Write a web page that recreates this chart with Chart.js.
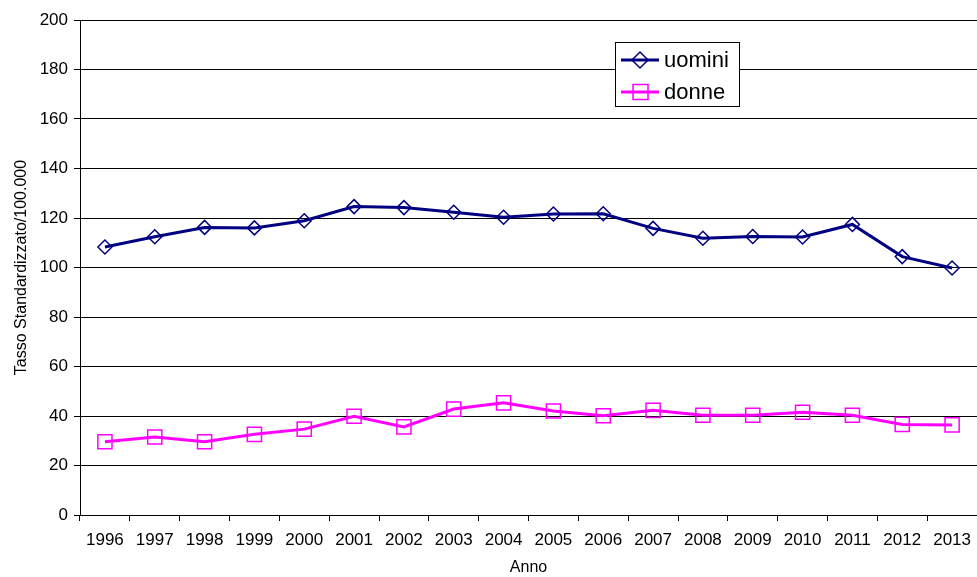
<!DOCTYPE html>
<html>
<head>
<meta charset="utf-8">
<script src="https://cdn.jsdelivr.net/npm/chart.js@4/dist/chart.umd.min.js"></script>
<style>
  html, body { margin: 0; padding: 0; background: #fff; }
  #wrap { width: 977px; height: 577px; }
</style>
</head>
<body>
<div id="wrap"><canvas id="lineChart" width="977" height="577"></canvas></div>
<script>
var anni = ["1996", "1997", "1998", "1999", "2000", "2001", "2002", "2003", "2004",
            "2005", "2006", "2007", "2008", "2009", "2010", "2011", "2012", "2013"];
var uomini = [108.3, 112.4, 116.2, 116, 118.9, 124.6, 124.2, 122.3, 120.3,
              121.6, 121.7, 115.8, 111.8, 112.5, 112.3, 117.4, 104.4, 99.8];
var donne = [29.6, 31.5, 29.6, 32.6, 34.7, 39.9, 35.6, 42.8, 45.3,
             42, 40.1, 42.3, 40.3, 40.3, 41.5, 40.3, 36.6, 36.4];
var yTicks = [0, 20, 40, 60, 80, 100, 120, 140, 160, 180, 200];

var font = "'Liberation Sans', Arial, sans-serif";

// legend box drawn inside the plot, like the original
var boxLegend = {
    id: "boxLegend",
    afterDraw: function (chart) {
        var ctx = chart.ctx;
        var x = 615, y = 42, w = 124, h = 64;
        ctx.save();
        ctx.fillStyle = "#fff";
        ctx.fillRect(x, y, w, h);
        ctx.strokeStyle = "#000";
        ctx.lineWidth = 1;
        ctx.strokeRect(x + 0.5, y + 0.5, w, h);
        chart.data.datasets.forEach(function (ds, i) {
            var cy = y + 18 + i * 32;
            ctx.strokeStyle = ds.borderColor;
            ctx.lineWidth = 3;
            ctx.beginPath();
            ctx.moveTo(x + 6, cy);
            ctx.lineTo(x + 44, cy);
            ctx.stroke();
            ctx.lineWidth = 1.5;
            ctx.beginPath();
            if (ds.pointStyle === "rectRot") {
                ctx.moveTo(x + 25, cy - 8);
                ctx.lineTo(x + 33, cy);
                ctx.lineTo(x + 25, cy + 8);
                ctx.lineTo(x + 17, cy);
                ctx.closePath();
            } else {
                ctx.rect(x + 18, cy - 7.5, 15, 15);
            }
            ctx.stroke();
            ctx.fillStyle = "#000";
            ctx.font = "22px " + font;
            ctx.textBaseline = "middle";
            ctx.fillText(ds.label, x + 49, cy + 1);
        });
        ctx.restore();
    }
};

var chart = new Chart(document.getElementById("lineChart"), {
    type: "line",
    data: {
        labels: anni,
        datasets: [{
            label: "uomini",
            data: uomini,
            borderColor: "#000080",
            backgroundColor: "rgba(0,0,0,0)",
            borderWidth: 3,
            pointStyle: "rectRot",
            pointRadius: 7,
            pointBorderWidth: 1.5,
            pointBorderColor: "#000080",
            pointBackgroundColor: "rgba(0,0,0,0)",
            tension: 0
        }, {
            label: "donne",
            data: donne,
            borderColor: "#FF00FF",
            backgroundColor: "rgba(0,0,0,0)",
            borderWidth: 3,
            pointStyle: "rect",
            pointRadius: 10,
            pointBorderWidth: 1.5,
            pointBorderColor: "#FF00FF",
            pointBackgroundColor: "rgba(0,0,0,0)",
            tension: 0
        }]
    },
    options: {
        responsive: false,
        animation: false,
        layout: { autoPadding: false, padding: { top: 20, right: -3, left: 0, bottom: 0 } },
        plugins: {
            legend: { display: false },
            tooltip: { enabled: false }
        },
        scales: {
            x: {
                offset: true,
                grid: {
                    offset: true,
                    drawOnChartArea: false,
                    drawTicks: true,
                    tickLength: 6,
                    color: "#000"
                },
                border: { color: "#000", width: 1 },
                ticks: {
                    color: "#000",
                    font: { family: font, size: 17 },
                    maxRotation: 0,
                    autoSkip: false,
                    padding: 9
                },
                title: {
                    display: true,
                    text: "Anno",
                    color: "#000",
                    font: { family: font, size: 16 },
                    padding: { top: 3, bottom: 0 }
                },
                afterFit: function (s) {
                    s.height = 62;
                    s.paddingLeft = 0;
                    s.paddingRight = 0;
                }
            },
            y: {
                min: 0,
                max: 200,
                afterBuildTicks: function (s) {
                    s.ticks = yTicks.map(function (v) { return { value: v }; });
                },
                grid: {
                    color: "#000",
                    lineWidth: 1,
                    drawTicks: true,
                    tickLength: 6
                },
                border: { color: "#000", width: 1 },
                ticks: {
                    color: "#000",
                    font: { family: font, size: 17 },
                    padding: 6
                },
                title: {
                    display: true,
                    text: "Tasso Standardizzato/100.000",
                    color: "#000",
                    font: { family: font, size: 16 },
                    padding: { top: 12, bottom: 0 }
                },
                afterFit: function (s) { s.width = 80; }
            }
        }
    },
    plugins: [boxLegend]
});
</script>
</body>
</html>
